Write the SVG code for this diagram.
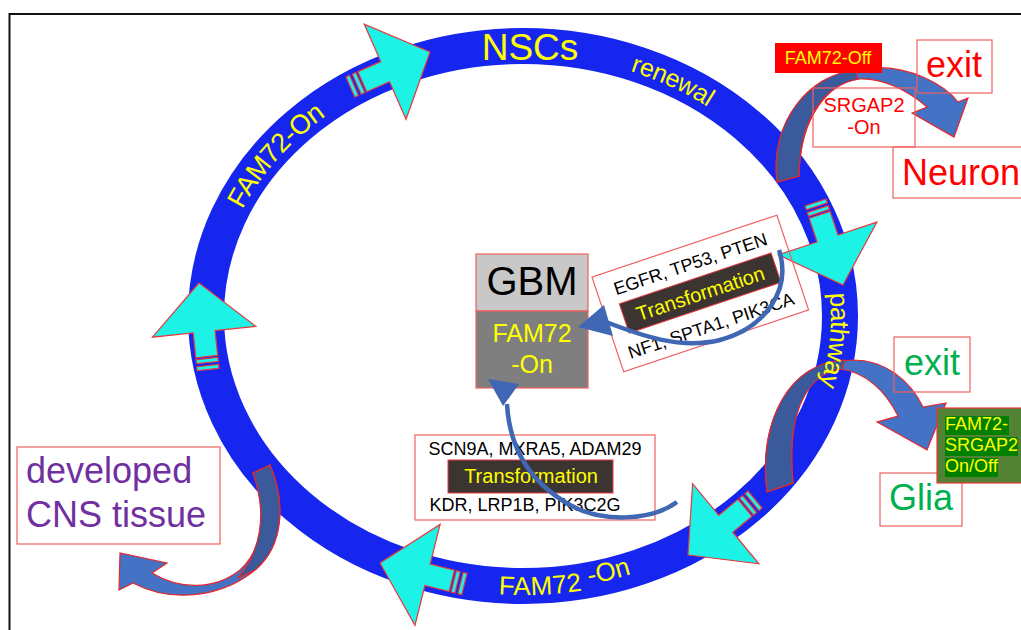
<svg xmlns="http://www.w3.org/2000/svg" width="1021" height="630" viewBox="0 0 1021 630">
<style>
text{font-family:"Liberation Sans",Arial,sans-serif}
.cy{fill:#1cf2e6;stroke:#e8383d;stroke-width:1.2}
.bx{fill:none;stroke:#f06060;stroke-width:1.2}
.ring-t{fill:#ffff00}
.lt{fill:#4472c4;stroke:#e8262a;stroke-width:1.2}
.dk{fill:#3a5a9c;stroke:#e8262a;stroke-width:1.2}
.thin{fill:none;stroke:#3f67b3;stroke-width:4.5}
.th{fill:#3f67b3}
.dbox{fill:#3b3431;stroke:#e8383d;stroke-width:1}
</style>
<defs>
<path id="cw" d="M206,316 A317,270 0 1,1 840,316 A317,270 0 1,1 206,316"/>
<path id="ccw" d="M206,316 A317,270 0 1,0 840,316 A317,270 0 1,0 206,316"/>
<g id="ca">
<path d="M0,0 L-49,-52 L-49,-11 L-74,-11 L-74,11 L-49,11 L-49,52 Z"/>
<rect x="-80" y="-11" width="4" height="22"/>
<rect x="-87" y="-11" width="4" height="22"/>
</g>
</defs>
<rect x="9.5" y="14" width="1040" height="640" fill="#fff" stroke="#111" stroke-width="2"/>

<g id="ring">
<ellipse cx="523" cy="316" rx="317" ry="270" fill="none" stroke="#1626ee" stroke-width="36"/>
</g>

<g id="cyan-arrows" class="cy">
<use href="#ca" transform="translate(430,52) rotate(-23.7)"/>
<use href="#ca" transform="translate(843,285) rotate(71.6)"/>
<use href="#ca" transform="translate(688,555) rotate(140.4)"/>
<use href="#ca" transform="translate(380,563) rotate(194)"/>
<use href="#ca" transform="translate(199,283) rotate(-96)"/>
</g>

<g id="connectors">
<path class="lt" d="M777,182 C770,120 810,75 870,68 C910,65 945,85 958,102 L968,98 L954,137 L912,113 L927,107 C905,88 880,78 860,79 C830,82 800,115 799,176 Z"/>
<path class="dk" d="M777,182 C770,120 810,75 855,70 L858,79 C826,85 800,115 799,176 Z"/>
<path class="lt" d="M767,492 C758,420 790,362 853,360 C885,360 910,380 923,407 L946,403 L927,450 L877,422 L898,416 C885,390 865,372 840,369 C815,370 785,400 793,483 Z"/>
<path class="dk" d="M767,492 C758,420 790,362 845,360 L842,369 C815,372 785,400 793,483 Z"/>
<path class="lt" d="M253,473 L270,465 C285,500 285,545 255,570 C225,595 175,605 133,583 L119,590 L120,553 L167,563 L152,573 C180,590 215,590 240,570 C262,550 268,515 253,473 Z"/>
<path class="dk" d="M253,473 L270,465 C285,500 285,545 255,570 L238,578 C260,552 268,515 253,473 Z"/>
</g>

<g id="ring-labels">
<text x="530" y="60" text-anchor="middle" font-size="37" class="ring-t">NSCs</text>
<text font-size="27" class="ring-t" dy="0.35em"><textPath href="#cw" startOffset="181" text-anchor="middle">FAM72-On</textPath></text>
<text font-size="25" class="ring-t" dy="0.35em"><textPath href="#cw" startOffset="617" text-anchor="middle">renewal</textPath></text>
<text font-size="26" class="ring-t" dy="0.35em"><textPath href="#cw" startOffset="948" text-anchor="middle">pathway</textPath></text>
<text font-size="26" class="ring-t" dy="0.35em"><textPath href="#ccw" startOffset="504" text-anchor="middle">FAM72 <tspan dy="-5">-On</tspan></textPath></text>
</g>

<g id="gbm">
<rect x="476" y="254" width="112" height="57" fill="#c8c8c8" stroke="#f06060" stroke-width="1.2"/>
<rect x="476" y="311" width="112" height="77" fill="#7f7f7f" stroke="#f06060" stroke-width="1.2"/>
<text x="532" y="295" text-anchor="middle" font-size="40" fill="#000">GBM</text>
<text x="532" y="342" text-anchor="middle" font-size="25" fill="#ffff00">FAM72</text>
<text x="532" y="373" text-anchor="middle" font-size="25" fill="#ffff00">-On</text>
</g>

<g id="upper-transformation" transform="translate(700.3,293.5) rotate(-18.5)">
<rect class="bx" x="-97.5" y="-50" width="195" height="100"/>
<rect class="dbox" x="-80" y="-16" width="160" height="31"/>
<text x="0" y="-25" text-anchor="middle" font-size="18" fill="#000">EGFR, TP53, PTEN</text>
<text x="0" y="7" text-anchor="middle" font-size="20" fill="#ffff00">Transformation</text>
<text x="0" y="40" text-anchor="middle" font-size="18" fill="#000">NF1, SPTA1, PIK3CA</text>
</g>

<g id="lower-transformation">
<rect class="bx" x="415" y="435" width="240" height="85"/>
<rect class="dbox" x="448" y="460" width="165" height="33"/>
<text x="535" y="455" text-anchor="middle" font-size="18" fill="#000">SCN9A, MXRA5, ADAM29</text>
<text x="531" y="483" text-anchor="middle" font-size="20" fill="#ffff00">Transformation</text>
<text x="525" y="511" text-anchor="middle" font-size="18" fill="#000">KDR, LRP1B, PIK3C2G</text>
</g>

<g id="thin-arrows">
<path class="thin" d="M779,250 C792,290 765,328 720,340 C680,350 640,335 606,322"/>
<polygon class="th" points="578,327 604,305 613,336"/>
<path class="thin" d="M677,502 C650,522 600,522 570,505 C535,485 510,455 507,404"/>
<polygon class="th" points="488,379 519,384 503,406"/>
</g>

<g id="fam72-off">
<rect x="775" y="43" width="107" height="30" fill="#ff0000"/>
<text x="828" y="64" text-anchor="middle" font-size="18" fill="#ffff00">FAM72-Off</text>
</g>
<g id="neuron-exit">
<rect class="bx" x="917" y="40" width="75" height="53"/>
<text x="954" y="77" text-anchor="middle" font-size="36" fill="#ff0000">exit</text>
</g>
<g id="srgap2-on">
<rect class="bx" x="813" y="88" width="102" height="59"/>
<text x="864" y="112" text-anchor="middle" font-size="20" fill="#ff0000">SRGAP2</text>
<text x="864" y="134" text-anchor="middle" font-size="20" fill="#ff0000">-On</text>
</g>
<g id="neuron">
<rect class="bx" x="893" y="147" width="140" height="51"/>
<text x="902" y="185" font-size="36" fill="#ff0000">Neuron</text>
</g>
<g id="glia-exit">
<rect class="bx" x="894" y="337" width="76" height="55"/>
<text x="932" y="375" text-anchor="middle" font-size="36" fill="#00b050">exit</text>
</g>
<g id="glia">
<rect class="bx" x="880" y="473" width="82" height="53"/>
<text x="921" y="510" text-anchor="middle" font-size="36" fill="#00b050">Glia</text>
</g>
<g id="fam72-srgap2">
<rect x="937" y="408" width="90" height="75" fill="#548235" stroke="#e8383d" stroke-width="1.2"/>
<rect x="945" y="416" width="64" height="19" fill="#008000"/>
<rect x="945" y="437" width="73" height="19" fill="#008000"/>
<rect x="945" y="458" width="53" height="19" fill="#008000"/>
<text x="945" y="430" font-size="18" fill="#ffff00">FAM72-</text>
<text x="945" y="451" font-size="18" fill="#ffff00">SRGAP2</text>
<text x="945" y="472" font-size="18" fill="#ffff00">On/Off</text>
</g>
<g id="cns">
<rect class="bx" x="17" y="447" width="203" height="97"/>
<text x="26" y="483" font-size="36" fill="#7030a0">developed</text>
<text x="26" y="527" font-size="36" fill="#7030a0">CNS tissue</text>
</g>
</svg>
